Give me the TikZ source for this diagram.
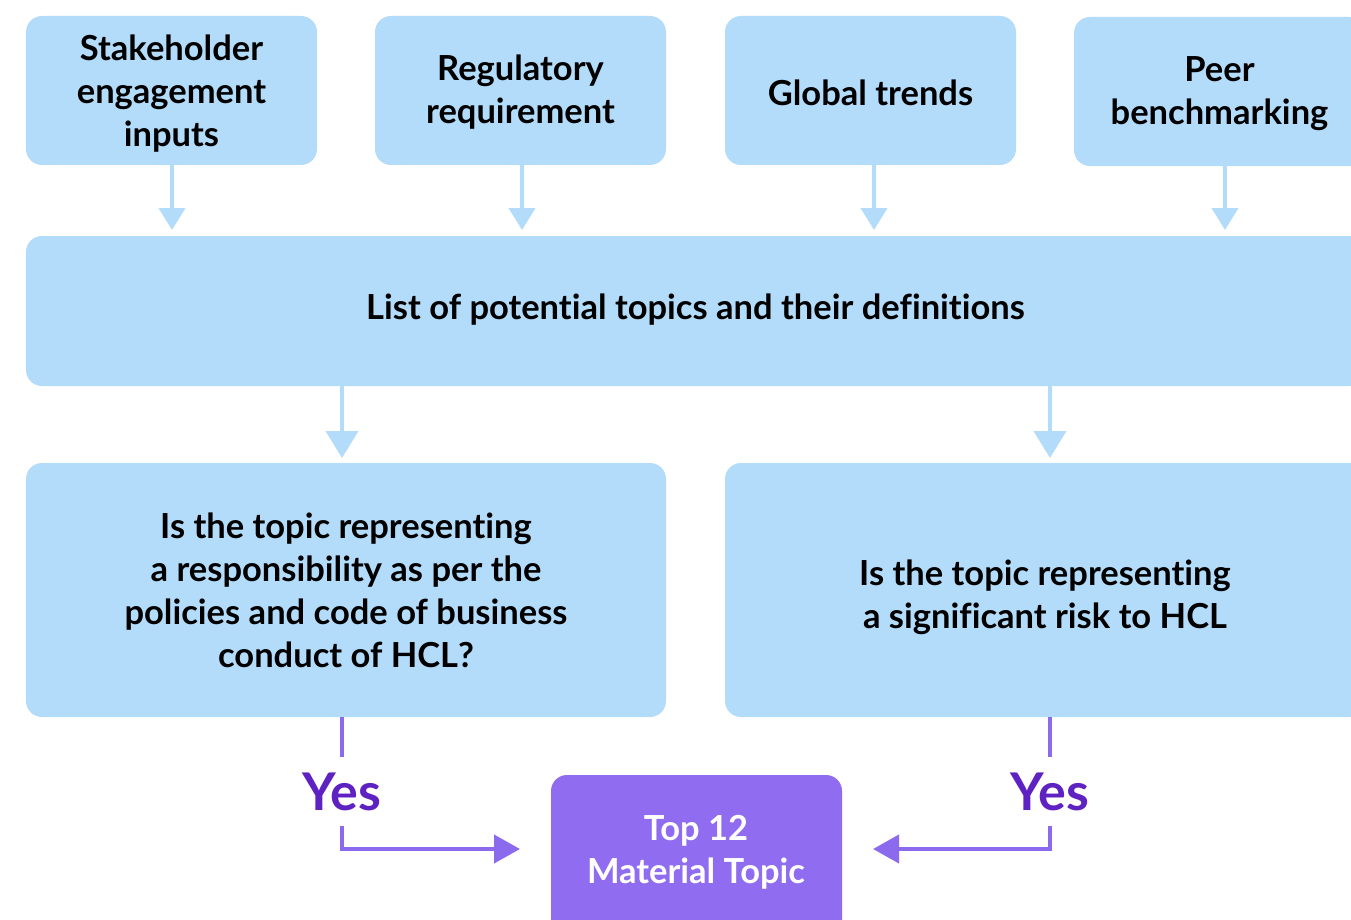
\documentclass[tikz,border=0pt]{standalone}
\usepackage{fontspec}
\setmainfont{Lato}[Ligatures={NoCommon}]
\usetikzlibrary{arrows.meta,positioning,calc}
\definecolor{lblue}{HTML}{B3DBFA}
\definecolor{pbox}{HTML}{8F6CF0}
\definecolor{pline}{HTML}{8B6AEE}
\definecolor{ytext}{HTML}{5F22C2}
\tikzset{
  bluebox/.style={rectangle, rounded corners=16pt, fill=lblue, draw=none, inner sep=0pt},
  boxtext/.style={align=center, font=\fontsize{34.5}{43}\selectfont\bfseries, text=black, inner sep=0pt},
  smallbox/.style={bluebox, minimum width=291pt, minimum height=149pt},
  bigbox/.style={bluebox, minimum width=640pt, minimum height=254pt},
  barrowA/.style={draw=lblue, line width=4pt, -{Triangle[width=26pt,length=22pt]}, shorten >=6pt},
  barrowB/.style={draw=lblue, line width=4pt, -{Triangle[width=32pt,length=27pt]}, shorten >=5pt},
  pconn/.style={draw=pline, line width=4pt},
  parrow/.style={pconn, -{Triangle[width=28pt,length=26pt]}},
  yeslabel/.style={text=ytext, font=\fontsize{52}{56}\selectfont\bfseries, inner sep=0pt, minimum height=69pt},
}
\begin{document}
\begin{tikzpicture}[x=1pt,y=-1pt]
\useasboundingbox (0,0) rectangle (1351,920);
\clip (0,0) rectangle (1351,920);
\fill[white] (0,0) rectangle (1351,920);
% top row
\node[smallbox] (b1) at (171.5,90.5) {};
\node[smallbox] (b2) at (520.5,90.5) {};
\node[smallbox] (b3) at (870.5,90.5) {};
\node[smallbox] (b4) at (1219.5,91.5) {};
\node[boxtext] (t1) at ($(b1.center)+(0,3.5)$) {Stakeholder\\engagement\\inputs};
\node[boxtext] (t2) at ($(b2.center)+(0,2)$) {Regulatory\\requirement};
\node[boxtext] (t3) at ($(b3.center)+(0,2)$) {Global trends};
\node[boxtext] (t4) at ($(b4.center)+(0,2.5)$) {Peer\\benchmarking};
% list
\node[bluebox, minimum width=1339pt, minimum height=150pt] (list) at (695.5,311) {};
\node[boxtext] (tl) at ($(list.center)+(0,-1)$) {List of potential topics and their definitions};
% questions
\node[bigbox] (q1) at (346,590) {};
\node[bigbox] (q2) at (1045,590) {};
\node[boxtext] (tq1) at (q1.center) {Is the topic representing\\a responsibility as per the\\policies and code of business\\conduct of HCL?};
\node[boxtext] (tq2) at ($(q2.center)+(0,7)$) {Is the topic representing\\a significant risk to HCL};
% result
\node[rectangle, rounded corners=16pt, fill=pbox, minimum width=291pt, minimum height=170pt, inner sep=0pt] (top) at (696.5,860) {};
\node[boxtext, text=white] (toptext) at (696,852) {Top 12\\Material Topic};
% arrows top -> list
\draw[barrowA] (172,165) -- (172,236);
\draw[barrowA] (522,165) -- (522,236);
\draw[barrowA] (874,165) -- (874,236);
\draw[barrowA] (1225,166) -- (1225,236);
% list -> questions
\draw[barrowB] (342,386) -- (342,463);
\draw[barrowB] (1050,386) -- (1050,463);
% yes labels
\node[yeslabel] (y1) at (342,791.5) {Yes};
\node[yeslabel] (y2) at (1050,791.5) {Yes};
\coordinate (tipL) at (520,849);
\coordinate (tipR) at (873,849);
\draw[pconn] (342,717) -- (y1.north);
\draw[pconn] (1050,717) -- (y2.north);
\draw[parrow] (y1.south) |- (tipL);
\draw[parrow] (y2.south) |- (tipR);
\end{tikzpicture}
\end{document}
